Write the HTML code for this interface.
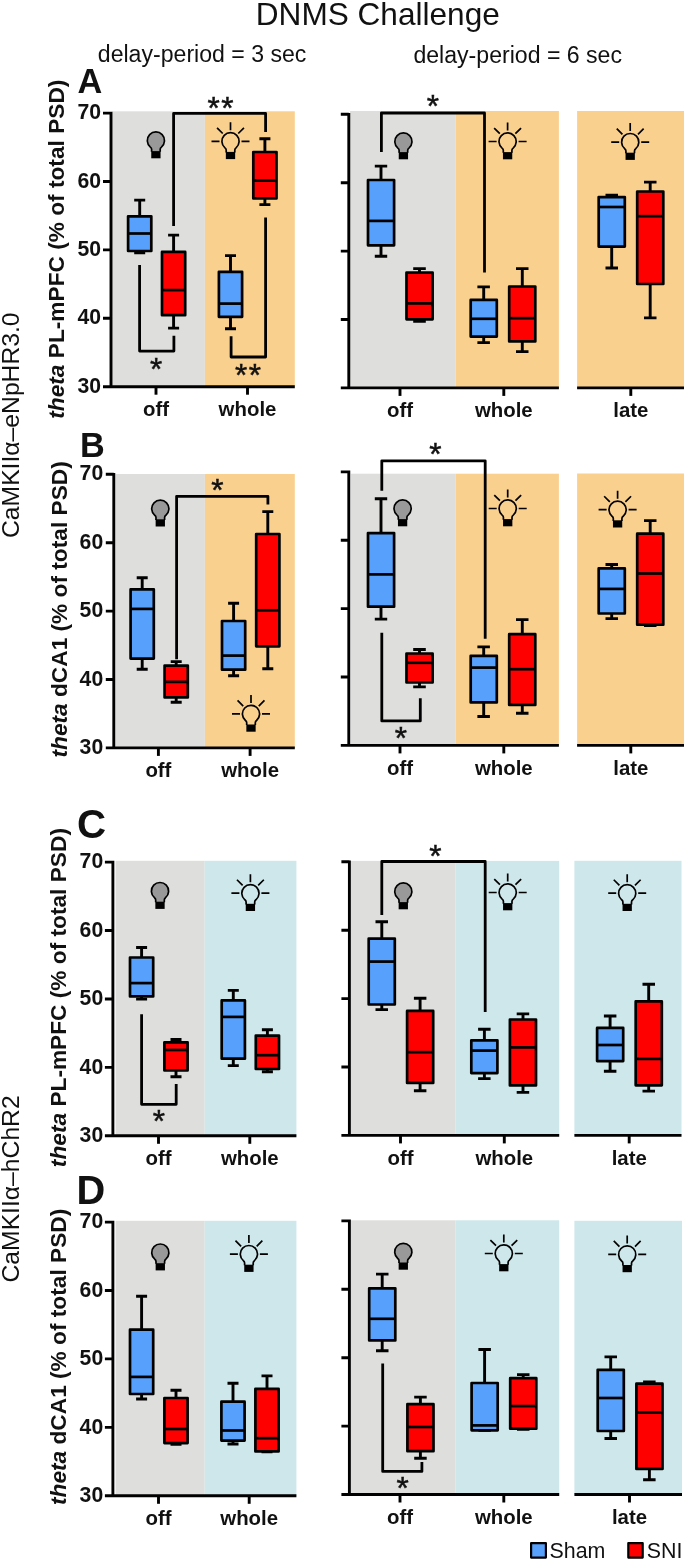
<!DOCTYPE html>
<html><head><meta charset="utf-8"><title>DNMS Challenge</title>
<style>
html,body{margin:0;padding:0;background:#fff}
svg{display:block;will-change:transform}
text{font-family:"Liberation Sans",sans-serif;fill:#111}
</style></head><body>
<svg width="685" height="1561" viewBox="0 0 685 1561">
<rect width="685" height="1561" fill="#fff"/>
<rect x="112.0" y="111.3" width="92.9" height="275.4" fill="#dededc"/>
<rect x="204.9" y="111.3" width="89.9" height="275.4" fill="#fad08f"/>
<rect x="350.0" y="111.0" width="105.6" height="276.9" fill="#dededc"/>
<rect x="455.6" y="111.0" width="103.3" height="276.9" fill="#fad08f"/>
<rect x="577.1" y="111.0" width="106.9" height="276.9" fill="#fad08f"/>
<path d="M111.0 111.8V386.7H294.8M103.0 113.1H111.0M103.0 181.5H111.0M103.0 249.9H111.0M103.0 318.3H111.0M103.0 386.7H111.0" stroke="#000" stroke-width="2.9" fill="none" stroke-linejoin="miter"/>
<text x="101.0" y="119.2" font-size="21.2" font-weight="bold" text-anchor="end">70</text>
<text x="101.0" y="187.6" font-size="21.2" font-weight="bold" text-anchor="end">60</text>
<text x="101.0" y="256.0" font-size="21.2" font-weight="bold" text-anchor="end">50</text>
<text x="101.0" y="324.4" font-size="21.2" font-weight="bold" text-anchor="end">40</text>
<text x="101.0" y="392.8" font-size="21.2" font-weight="bold" text-anchor="end">30</text>
<path d="M348.8 113.0V387.9H558.9M340.8 114.3H348.8M340.8 182.7H348.8M340.8 251.1H348.8M340.8 319.5H348.8M340.8 387.9H348.8" stroke="#000" stroke-width="2.9" fill="none" stroke-linejoin="miter"/>
<path d="M577.1 387.9H684.0" stroke="#000" stroke-width="2.9"/>
<path d="M156.0 386.7V394.7" stroke="#000" stroke-width="2.9"/>
<text x="156.0" y="415.8" font-size="20.4" font-weight="bold" text-anchor="middle">off</text>
<path d="M247.5 386.7V394.7" stroke="#000" stroke-width="2.9"/>
<text x="247.5" y="415.8" font-size="20.4" font-weight="bold" text-anchor="middle">whole</text>
<path d="M400.0 387.9V395.9" stroke="#000" stroke-width="2.9"/>
<text x="400.0" y="416.8" font-size="20.4" font-weight="bold" text-anchor="middle">off</text>
<path d="M503.8 387.9V395.9" stroke="#000" stroke-width="2.9"/>
<text x="503.8" y="416.8" font-size="20.4" font-weight="bold" text-anchor="middle">whole</text>
<path d="M630.8 387.9V395.9" stroke="#000" stroke-width="2.9"/>
<text x="630.8" y="416.8" font-size="20.4" font-weight="bold" text-anchor="middle">late</text>
<path d="M151.60 151.70L151.60 149.29Q151.60 147.89 150.37 147.09A8.6 8.6 0 1 1 161.43 147.09Q160.20 147.89 160.20 149.29L160.20 151.70" fill="#999" stroke="#000" stroke-width="1.7" stroke-linejoin="round"/>
<rect x="151.25" y="151.10" width="9.3" height="7.2" fill="#000"/>
<path d="M226.20 152.50L226.20 150.09Q226.20 148.69 224.97 147.89A8.6 8.6 0 1 1 236.03 147.89Q234.80 148.69 234.80 150.09L234.80 152.50" fill="none" stroke="#000" stroke-width="1.7" stroke-linejoin="round"/>
<rect x="225.85" y="151.90" width="9.3" height="7.2" fill="#000"/>
<path d="M230.50 130.30L230.50 122.30M222.72 133.52L217.06 127.86M238.28 133.52L243.94 127.86M219.50 141.30L211.50 141.30M241.50 141.30L249.50 141.30" stroke="#000" stroke-width="1.7" fill="none"/>
<path d="M399.10 152.70L399.10 150.29Q399.10 148.89 397.87 148.09A8.6 8.6 0 1 1 408.93 148.09Q407.70 148.89 407.70 150.29L407.70 152.70" fill="#999" stroke="#000" stroke-width="1.7" stroke-linejoin="round"/>
<rect x="398.75" y="152.10" width="9.3" height="7.2" fill="#000"/>
<path d="M503.30 152.70L503.30 150.29Q503.30 148.89 502.07 148.09A8.6 8.6 0 1 1 513.13 148.09Q511.90 148.89 511.90 150.29L511.90 152.70" fill="none" stroke="#000" stroke-width="1.7" stroke-linejoin="round"/>
<rect x="502.95" y="152.10" width="9.3" height="7.2" fill="#000"/>
<path d="M507.60 130.50L507.60 122.50M499.82 133.72L494.16 128.06M515.38 133.72L521.04 128.06M496.60 141.50L488.60 141.50M518.60 141.50L526.60 141.50" stroke="#000" stroke-width="1.7" fill="none"/>
<path d="M625.90 153.30L625.90 150.89Q625.90 149.49 624.67 148.69A8.6 8.6 0 1 1 635.73 148.69Q634.50 149.49 634.50 150.89L634.50 153.30" fill="none" stroke="#000" stroke-width="1.7" stroke-linejoin="round"/>
<rect x="625.55" y="152.70" width="9.3" height="7.2" fill="#000"/>
<path d="M630.20 131.10L630.20 123.10M622.42 134.32L616.76 128.66M637.98 134.32L643.64 128.66M619.20 142.10L611.20 142.10M641.20 142.10L649.20 142.10" stroke="#000" stroke-width="1.7" fill="none"/>
<path d="M173.6 224.7L173.6 113.4L265.6 113.4L265.6 130.7" stroke="#000" stroke-width="2.8" fill="none" stroke-linejoin="round" stroke-linecap="square"/>
<path d="M139.6 266.5L139.6 351.1L173.9 351.1L173.9 337.1" stroke="#000" stroke-width="2.8" fill="none" stroke-linejoin="round" stroke-linecap="square"/>
<path d="M231.1 337.7L231.1 357.0L265.6 357.0L265.6 218.9" stroke="#000" stroke-width="2.8" fill="none" stroke-linejoin="round" stroke-linecap="square"/>
<path d="M381.4 150.5L381.4 113.0L484.5 113.0L484.5 271.0" stroke="#000" stroke-width="2.8" fill="none" stroke-linejoin="round" stroke-linecap="square"/>
<path d="M139.7 200.1V216.3M139.7 251.1V252.7M134.2 200.1H145.2M134.2 252.7H145.2" stroke="#000" stroke-width="2.9" fill="none"/>
<rect x="128.1" y="216.3" width="23.2" height="34.7" fill="#57a0fb" stroke="#000" stroke-width="2.7" stroke-linejoin="round"/>
<path d="M128.1 233.5H151.3" stroke="#000" stroke-width="2.7"/>
<path d="M173.6 235.1V251.9M173.6 315.2V328.1M168.1 235.1H179.1M168.1 328.1H179.1" stroke="#000" stroke-width="2.9" fill="none"/>
<rect x="162.0" y="251.9" width="23.2" height="63.3" fill="#ff0000" stroke="#000" stroke-width="2.7" stroke-linejoin="round"/>
<path d="M162.0 290.1H185.2" stroke="#000" stroke-width="2.7"/>
<path d="M230.5 255.6V271.8M230.5 316.7V328.7M225.0 255.6H236.0M225.0 328.7H236.0" stroke="#000" stroke-width="2.9" fill="none"/>
<rect x="218.9" y="271.8" width="23.2" height="45.0" fill="#57a0fb" stroke="#000" stroke-width="2.7" stroke-linejoin="round"/>
<path d="M218.9 303.6H242.1" stroke="#000" stroke-width="2.7"/>
<path d="M264.9 138.8V152.0M264.9 198.5V204.6M259.4 138.8H270.4M259.4 204.6H270.4" stroke="#000" stroke-width="2.9" fill="none"/>
<rect x="253.3" y="152.0" width="23.2" height="46.4" fill="#ff0000" stroke="#000" stroke-width="2.7" stroke-linejoin="round"/>
<path d="M253.3 180.6H276.5" stroke="#000" stroke-width="2.7"/>
<path d="M381.0 166.1V180.0M381.0 245.4V256.2M374.8 166.1H387.2M374.8 256.2H387.2" stroke="#000" stroke-width="2.9" fill="none"/>
<rect x="368.0" y="180.0" width="26.1" height="65.3" fill="#57a0fb" stroke="#000" stroke-width="2.7" stroke-linejoin="round"/>
<path d="M368.0 220.9H394.0" stroke="#000" stroke-width="2.7"/>
<path d="M419.5 268.6V272.6M419.5 319.2V321.4M413.2 268.6H425.8M413.2 321.4H425.8" stroke="#000" stroke-width="2.9" fill="none"/>
<rect x="406.5" y="272.6" width="26.1" height="46.7" fill="#ff0000" stroke="#000" stroke-width="2.7" stroke-linejoin="round"/>
<path d="M406.5 303.4H432.5" stroke="#000" stroke-width="2.7"/>
<path d="M483.7 286.9V299.9M483.7 336.5V342.6M477.4 286.9H489.9M477.4 342.6H489.9" stroke="#000" stroke-width="2.9" fill="none"/>
<rect x="470.7" y="299.9" width="26.1" height="36.7" fill="#57a0fb" stroke="#000" stroke-width="2.7" stroke-linejoin="round"/>
<path d="M470.7 318.8H496.7" stroke="#000" stroke-width="2.7"/>
<path d="M522.3 268.6V286.5M522.3 341.3V351.6M516.0 268.6H528.5M516.0 351.6H528.5" stroke="#000" stroke-width="2.9" fill="none"/>
<rect x="509.2" y="286.5" width="26.1" height="54.9" fill="#ff0000" stroke="#000" stroke-width="2.7" stroke-linejoin="round"/>
<path d="M509.2 318.2H535.3" stroke="#000" stroke-width="2.7"/>
<path d="M611.7 195.3V197.1M611.7 246.7V268.0M605.5 195.3H618.0M605.5 268.0H618.0" stroke="#000" stroke-width="2.9" fill="none"/>
<rect x="598.7" y="197.1" width="26.1" height="49.5" fill="#57a0fb" stroke="#000" stroke-width="2.7" stroke-linejoin="round"/>
<path d="M598.7 207.0H624.8" stroke="#000" stroke-width="2.7"/>
<path d="M650.2 182.1V191.5M650.2 284.0V317.9M644.0 182.1H656.5M644.0 317.9H656.5" stroke="#000" stroke-width="2.9" fill="none"/>
<rect x="637.2" y="191.5" width="26.1" height="92.5" fill="#ff0000" stroke="#000" stroke-width="2.7" stroke-linejoin="round"/>
<path d="M637.2 216.2H663.2" stroke="#000" stroke-width="2.7"/>
<text x="213.6" y="118.6" font-size="31.5" text-anchor="middle" stroke="#111" stroke-width="0.5">*</text>
<text x="227.4" y="118.6" font-size="31.5" text-anchor="middle" stroke="#111" stroke-width="0.5">*</text>
<text x="156.1" y="379.9" font-size="31.5" text-anchor="middle" stroke="#111" stroke-width="0.5">*</text>
<text x="241.1" y="386.3" font-size="31.5" text-anchor="middle" stroke="#111" stroke-width="0.5">*</text>
<text x="254.9" y="386.3" font-size="31.5" text-anchor="middle" stroke="#111" stroke-width="0.5">*</text>
<text x="433.0" y="117.0" font-size="31.5" text-anchor="middle" stroke="#111" stroke-width="0.5">*</text>
<rect x="115.5" y="474.0" width="89.4" height="273.9" fill="#dededc"/>
<rect x="204.9" y="474.0" width="89.9" height="273.9" fill="#fad08f"/>
<rect x="350.8" y="473.7" width="104.8" height="271.7" fill="#dededc"/>
<rect x="455.6" y="473.7" width="103.3" height="271.7" fill="#fad08f"/>
<rect x="577.1" y="473.5" width="106.9" height="271.9" fill="#fad08f"/>
<path d="M113.8 472.9V747.9H294.8M105.8 474.3H113.8M105.8 542.7H113.8M105.8 611.1H113.8M105.8 679.5H113.8M105.8 747.9H113.8" stroke="#000" stroke-width="2.9" fill="none" stroke-linejoin="miter"/>
<text x="103.2" y="480.4" font-size="21.2" font-weight="bold" text-anchor="end">70</text>
<text x="103.2" y="548.8" font-size="21.2" font-weight="bold" text-anchor="end">60</text>
<text x="103.2" y="617.2" font-size="21.2" font-weight="bold" text-anchor="end">50</text>
<text x="103.2" y="685.6" font-size="21.2" font-weight="bold" text-anchor="end">40</text>
<text x="103.2" y="754.0" font-size="21.2" font-weight="bold" text-anchor="end">30</text>
<path d="M348.8 470.5V745.4H558.9M340.8 471.9H348.8M340.8 540.3H348.8M340.8 608.6H348.8M340.8 677.0H348.8M340.8 745.4H348.8" stroke="#000" stroke-width="2.9" fill="none" stroke-linejoin="miter"/>
<path d="M577.1 745.4H684.0" stroke="#000" stroke-width="2.9"/>
<path d="M158.4 747.9V755.9" stroke="#000" stroke-width="2.9"/>
<text x="158.4" y="776.9" font-size="20.4" font-weight="bold" text-anchor="middle">off</text>
<path d="M250.1 747.9V755.9" stroke="#000" stroke-width="2.9"/>
<text x="250.1" y="776.9" font-size="20.4" font-weight="bold" text-anchor="middle">whole</text>
<path d="M400.0 745.4V753.4" stroke="#000" stroke-width="2.9"/>
<text x="400.0" y="775.0" font-size="20.4" font-weight="bold" text-anchor="middle">off</text>
<path d="M503.8 745.4V753.4" stroke="#000" stroke-width="2.9"/>
<text x="503.8" y="775.0" font-size="20.4" font-weight="bold" text-anchor="middle">whole</text>
<path d="M630.8 745.4V753.4" stroke="#000" stroke-width="2.9"/>
<text x="630.8" y="775.0" font-size="20.4" font-weight="bold" text-anchor="middle">late</text>
<path d="M156.00 519.90L156.00 517.49Q156.00 516.09 154.77 515.29A8.6 8.6 0 1 1 165.83 515.29Q164.60 516.09 164.60 517.49L164.60 519.90" fill="#999" stroke="#000" stroke-width="1.7" stroke-linejoin="round"/>
<rect x="155.65" y="519.30" width="9.3" height="7.2" fill="#000"/>
<path d="M246.70 725.10L246.70 722.69Q246.70 721.29 245.47 720.49A8.6 8.6 0 1 1 256.53 720.49Q255.30 721.29 255.30 722.69L255.30 725.10" fill="none" stroke="#000" stroke-width="1.7" stroke-linejoin="round"/>
<rect x="246.35" y="724.50" width="9.3" height="7.2" fill="#000"/>
<path d="M251.00 702.90L251.00 694.90M243.22 706.12L237.56 700.46M258.78 706.12L264.44 700.46M240.00 713.90L232.00 713.90M262.00 713.90L270.00 713.90" stroke="#000" stroke-width="1.7" fill="none"/>
<path d="M398.30 519.70L398.30 517.29Q398.30 515.89 397.07 515.09A8.6 8.6 0 1 1 408.13 515.09Q406.90 515.89 406.90 517.29L406.90 519.70" fill="#999" stroke="#000" stroke-width="1.7" stroke-linejoin="round"/>
<rect x="397.95" y="519.10" width="9.3" height="7.2" fill="#000"/>
<path d="M503.40 519.70L503.40 517.29Q503.40 515.89 502.17 515.09A8.6 8.6 0 1 1 513.23 515.09Q512.00 515.89 512.00 517.29L512.00 519.70" fill="none" stroke="#000" stroke-width="1.7" stroke-linejoin="round"/>
<rect x="503.05" y="519.10" width="9.3" height="7.2" fill="#000"/>
<path d="M507.70 497.50L507.70 489.50M499.92 500.72L494.26 495.06M515.48 500.72L521.14 495.06M496.70 508.50L488.70 508.50M518.70 508.50L526.70 508.50" stroke="#000" stroke-width="1.7" fill="none"/>
<path d="M613.30 520.90L613.30 518.49Q613.30 517.09 612.07 516.29A8.6 8.6 0 1 1 623.13 516.29Q621.90 517.09 621.90 518.49L621.90 520.90" fill="none" stroke="#000" stroke-width="1.7" stroke-linejoin="round"/>
<rect x="612.95" y="520.30" width="9.3" height="7.2" fill="#000"/>
<path d="M617.60 498.70L617.60 490.70M609.82 501.92L604.16 496.26M625.38 501.92L631.04 496.26M606.60 509.70L598.60 509.70M628.60 509.70L636.60 509.70" stroke="#000" stroke-width="1.7" fill="none"/>
<path d="M176.6 657.9L176.6 496.3L267.9 496.3L267.9 503.2" stroke="#000" stroke-width="2.8" fill="none" stroke-linejoin="round" stroke-linecap="square"/>
<path d="M381.8 489.4L381.8 460.8L485.2 460.8L485.2 637.4" stroke="#000" stroke-width="2.8" fill="none" stroke-linejoin="round" stroke-linecap="square"/>
<path d="M381.8 634.2L381.8 720.9L420.3 720.9L420.3 699.7" stroke="#000" stroke-width="2.8" fill="none" stroke-linejoin="round" stroke-linecap="square"/>
<path d="M142.2 577.8V589.4M142.2 658.5V669.3M136.7 577.8H147.7M136.7 669.3H147.7" stroke="#000" stroke-width="2.9" fill="none"/>
<rect x="130.6" y="589.4" width="23.2" height="69.2" fill="#57a0fb" stroke="#000" stroke-width="2.7" stroke-linejoin="round"/>
<path d="M130.6 608.9H153.8" stroke="#000" stroke-width="2.7"/>
<path d="M176.2 661.6V665.6M176.2 697.3V702.3M170.7 661.6H181.7M170.7 702.3H181.7" stroke="#000" stroke-width="2.9" fill="none"/>
<rect x="164.6" y="665.6" width="23.2" height="31.8" fill="#ff0000" stroke="#000" stroke-width="2.7" stroke-linejoin="round"/>
<path d="M164.6 681.9H187.8" stroke="#000" stroke-width="2.7"/>
<path d="M233.6 603.2V621.0M233.6 669.6V675.7M228.1 603.2H239.1M228.1 675.7H239.1" stroke="#000" stroke-width="2.9" fill="none"/>
<rect x="222.0" y="621.0" width="23.2" height="48.7" fill="#57a0fb" stroke="#000" stroke-width="2.7" stroke-linejoin="round"/>
<path d="M222.0 655.6H245.2" stroke="#000" stroke-width="2.7"/>
<path d="M267.8 511.6V534.0M267.8 646.2V668.7M262.3 511.6H273.3M262.3 668.7H273.3" stroke="#000" stroke-width="2.9" fill="none"/>
<rect x="256.2" y="534.0" width="23.2" height="112.3" fill="#ff0000" stroke="#000" stroke-width="2.7" stroke-linejoin="round"/>
<path d="M256.2 610.3H279.4" stroke="#000" stroke-width="2.7"/>
<path d="M381.0 498.8V533.1M381.0 606.6V619.1M374.8 498.8H387.2M374.8 619.1H387.2" stroke="#000" stroke-width="2.9" fill="none"/>
<rect x="368.0" y="533.1" width="26.1" height="73.6" fill="#57a0fb" stroke="#000" stroke-width="2.7" stroke-linejoin="round"/>
<path d="M368.0 574.4H394.0" stroke="#000" stroke-width="2.7"/>
<path d="M419.5 649.5V653.5M419.5 682.4V686.9M413.2 649.5H425.8M413.2 686.9H425.8" stroke="#000" stroke-width="2.9" fill="none"/>
<rect x="406.5" y="653.5" width="26.1" height="29.0" fill="#ff0000" stroke="#000" stroke-width="2.7" stroke-linejoin="round"/>
<path d="M406.5 662.8H432.5" stroke="#000" stroke-width="2.7"/>
<path d="M483.7 646.9V655.8M483.7 702.3V716.5M477.4 646.9H489.9M477.4 716.5H489.9" stroke="#000" stroke-width="2.9" fill="none"/>
<rect x="470.7" y="655.8" width="26.1" height="46.6" fill="#57a0fb" stroke="#000" stroke-width="2.7" stroke-linejoin="round"/>
<path d="M470.7 667.6H496.7" stroke="#000" stroke-width="2.7"/>
<path d="M522.3 619.6V634.2M522.3 704.9V713.2M516.0 619.6H528.5M516.0 713.2H528.5" stroke="#000" stroke-width="2.9" fill="none"/>
<rect x="509.2" y="634.2" width="26.1" height="70.7" fill="#ff0000" stroke="#000" stroke-width="2.7" stroke-linejoin="round"/>
<path d="M509.2 669.2H535.3" stroke="#000" stroke-width="2.7"/>
<path d="M611.7 564.5V568.4M611.7 613.4V618.6M605.5 564.5H618.0M605.5 618.6H618.0" stroke="#000" stroke-width="2.9" fill="none"/>
<rect x="598.7" y="568.4" width="26.1" height="45.1" fill="#57a0fb" stroke="#000" stroke-width="2.7" stroke-linejoin="round"/>
<path d="M598.7 588.9H624.8" stroke="#000" stroke-width="2.7"/>
<path d="M650.2 520.6V533.7M650.2 624.6V625.6M644.0 520.6H656.5M644.0 625.6H656.5" stroke="#000" stroke-width="2.9" fill="none"/>
<rect x="637.2" y="533.7" width="26.1" height="91.0" fill="#ff0000" stroke="#000" stroke-width="2.7" stroke-linejoin="round"/>
<path d="M637.2 573.5H663.2" stroke="#000" stroke-width="2.7"/>
<text x="217.4" y="500.6" font-size="31.5" text-anchor="middle" stroke="#111" stroke-width="0.5">*</text>
<text x="435.3" y="464.9" font-size="31.5" text-anchor="middle" stroke="#111" stroke-width="0.5">*</text>
<text x="401.0" y="749.4" font-size="31.5" text-anchor="middle" stroke="#111" stroke-width="0.5">*</text>
<rect x="115.6" y="860.8" width="89.1" height="275.0" fill="#dededc"/>
<rect x="204.7" y="860.8" width="91.7" height="275.0" fill="#cde7ea"/>
<rect x="351.0" y="860.9" width="104.6" height="274.5" fill="#dededc"/>
<rect x="455.6" y="860.9" width="103.6" height="274.5" fill="#cde7ea"/>
<rect x="574.4" y="860.8" width="107.1" height="274.6" fill="#cde7ea"/>
<path d="M112.9 860.8V1135.8H296.4M104.9 862.1H112.9M104.9 930.5H112.9M104.9 999.0H112.9M104.9 1067.4H112.9M104.9 1135.8H112.9" stroke="#000" stroke-width="2.9" fill="none" stroke-linejoin="miter"/>
<text x="103.2" y="868.2" font-size="21.2" font-weight="bold" text-anchor="end">70</text>
<text x="103.2" y="936.6" font-size="21.2" font-weight="bold" text-anchor="end">60</text>
<text x="103.2" y="1005.1" font-size="21.2" font-weight="bold" text-anchor="end">50</text>
<text x="103.2" y="1073.5" font-size="21.2" font-weight="bold" text-anchor="end">40</text>
<text x="103.2" y="1141.9" font-size="21.2" font-weight="bold" text-anchor="end">30</text>
<path d="M349.4 860.4V1135.4H559.2M341.4 861.8H349.4M341.4 930.2H349.4M341.4 998.6H349.4M341.4 1067.0H349.4M341.4 1135.4H349.4" stroke="#000" stroke-width="2.9" fill="none" stroke-linejoin="miter"/>
<path d="M574.4 1135.4H681.5" stroke="#000" stroke-width="2.9"/>
<path d="M158.5 1135.8V1143.8" stroke="#000" stroke-width="2.9"/>
<text x="158.5" y="1165.4" font-size="20.4" font-weight="bold" text-anchor="middle">off</text>
<path d="M249.8 1135.8V1143.8" stroke="#000" stroke-width="2.9"/>
<text x="249.8" y="1165.4" font-size="20.4" font-weight="bold" text-anchor="middle">whole</text>
<path d="M400.5 1135.4V1143.4" stroke="#000" stroke-width="2.9"/>
<text x="400.5" y="1165.3" font-size="20.4" font-weight="bold" text-anchor="middle">off</text>
<path d="M504.3 1135.4V1143.4" stroke="#000" stroke-width="2.9"/>
<text x="504.3" y="1165.3" font-size="20.4" font-weight="bold" text-anchor="middle">whole</text>
<path d="M629.2 1135.4V1143.4" stroke="#000" stroke-width="2.9"/>
<text x="629.2" y="1165.3" font-size="20.4" font-weight="bold" text-anchor="middle">late</text>
<path d="M155.70 902.30L155.70 899.89Q155.70 898.49 154.47 897.69A8.6 8.6 0 1 1 165.53 897.69Q164.30 898.49 164.30 899.89L164.30 902.30" fill="#999" stroke="#000" stroke-width="1.7" stroke-linejoin="round"/>
<rect x="155.35" y="901.70" width="9.3" height="7.2" fill="#000"/>
<path d="M246.10 904.40L246.10 901.99Q246.10 900.59 244.87 899.79A8.6 8.6 0 1 1 255.93 899.79Q254.70 900.59 254.70 901.99L254.70 904.40" fill="none" stroke="#000" stroke-width="1.7" stroke-linejoin="round"/>
<rect x="245.75" y="903.80" width="9.3" height="7.2" fill="#000"/>
<path d="M250.40 882.20L250.40 874.20M242.62 885.42L236.96 879.76M258.18 885.42L263.84 879.76M239.40 893.20L231.40 893.20M261.40 893.20L269.40 893.20" stroke="#000" stroke-width="1.7" fill="none"/>
<path d="M399.00 902.70L399.00 900.29Q399.00 898.89 397.77 898.09A8.6 8.6 0 1 1 408.83 898.09Q407.60 898.89 407.60 900.29L407.60 902.70" fill="#999" stroke="#000" stroke-width="1.7" stroke-linejoin="round"/>
<rect x="398.65" y="902.10" width="9.3" height="7.2" fill="#000"/>
<path d="M503.40 903.70L503.40 901.29Q503.40 899.89 502.17 899.09A8.6 8.6 0 1 1 513.23 899.09Q512.00 899.89 512.00 901.29L512.00 903.70" fill="none" stroke="#000" stroke-width="1.7" stroke-linejoin="round"/>
<rect x="503.05" y="903.10" width="9.3" height="7.2" fill="#000"/>
<path d="M507.70 881.50L507.70 873.50M499.92 884.72L494.26 879.06M515.48 884.72L521.14 879.06M496.70 892.50L488.70 892.50M518.70 892.50L526.70 892.50" stroke="#000" stroke-width="1.7" fill="none"/>
<path d="M622.90 904.40L622.90 901.99Q622.90 900.59 621.67 899.79A8.6 8.6 0 1 1 632.73 899.79Q631.50 900.59 631.50 901.99L631.50 904.40" fill="none" stroke="#000" stroke-width="1.7" stroke-linejoin="round"/>
<rect x="622.55" y="903.80" width="9.3" height="7.2" fill="#000"/>
<path d="M627.20 882.20L627.20 874.20M619.42 885.42L613.76 879.76M634.98 885.42L640.64 879.76M616.20 893.20L608.20 893.20M638.20 893.20L646.20 893.20" stroke="#000" stroke-width="1.7" fill="none"/>
<path d="M141.6 1015.7L141.6 1104.3L176.2 1104.3L176.2 1085.3" stroke="#000" stroke-width="2.8" fill="none" stroke-linejoin="round" stroke-linecap="square"/>
<path d="M381.8 913.5L381.8 861.5L485.2 861.5L485.2 1010.5" stroke="#000" stroke-width="2.8" fill="none" stroke-linejoin="round" stroke-linecap="square"/>
<path d="M141.6 947.5V957.5M141.6 996.3V999.1M136.1 947.5H147.1M136.1 999.1H147.1" stroke="#000" stroke-width="2.9" fill="none"/>
<rect x="130.0" y="957.5" width="23.2" height="38.9" fill="#57a0fb" stroke="#000" stroke-width="2.7" stroke-linejoin="round"/>
<path d="M130.0 983.1H153.2" stroke="#000" stroke-width="2.7"/>
<path d="M176.0 1039.5V1042.3M176.0 1070.6V1076.7M170.5 1039.5H181.5M170.5 1076.7H181.5" stroke="#000" stroke-width="2.9" fill="none"/>
<rect x="164.4" y="1042.3" width="23.2" height="28.2" fill="#ff0000" stroke="#000" stroke-width="2.7" stroke-linejoin="round"/>
<path d="M164.4 1050.0H187.6" stroke="#000" stroke-width="2.7"/>
<path d="M233.3 990.4V1000.4M233.3 1058.7V1065.6M227.8 990.4H238.8M227.8 1065.6H238.8" stroke="#000" stroke-width="2.9" fill="none"/>
<rect x="221.7" y="1000.4" width="23.2" height="58.3" fill="#57a0fb" stroke="#000" stroke-width="2.7" stroke-linejoin="round"/>
<path d="M221.7 1016.9H244.9" stroke="#000" stroke-width="2.7"/>
<path d="M267.4 1029.7V1035.6M267.4 1069.1V1071.8M261.9 1029.7H272.9M261.9 1071.8H272.9" stroke="#000" stroke-width="2.9" fill="none"/>
<rect x="255.8" y="1035.6" width="23.2" height="33.4" fill="#ff0000" stroke="#000" stroke-width="2.7" stroke-linejoin="round"/>
<path d="M255.8 1055.2H279.0" stroke="#000" stroke-width="2.7"/>
<path d="M381.8 921.7V938.6M381.8 1004.4V1009.6M375.5 921.7H388.0M375.5 1009.6H388.0" stroke="#000" stroke-width="2.9" fill="none"/>
<rect x="368.7" y="938.6" width="26.1" height="65.9" fill="#57a0fb" stroke="#000" stroke-width="2.7" stroke-linejoin="round"/>
<path d="M368.7 961.6H394.8" stroke="#000" stroke-width="2.7"/>
<path d="M420.1 998.2V1010.9M420.1 1082.9V1090.8M413.9 998.2H426.4M413.9 1090.8H426.4" stroke="#000" stroke-width="2.9" fill="none"/>
<rect x="407.1" y="1010.9" width="26.1" height="72.0" fill="#ff0000" stroke="#000" stroke-width="2.7" stroke-linejoin="round"/>
<path d="M407.1 1052.2H433.2" stroke="#000" stroke-width="2.7"/>
<path d="M484.4 1029.3V1040.3M484.4 1073.2V1078.6M478.1 1029.3H490.6M478.1 1078.6H490.6" stroke="#000" stroke-width="2.9" fill="none"/>
<rect x="471.3" y="1040.3" width="26.1" height="32.8" fill="#57a0fb" stroke="#000" stroke-width="2.7" stroke-linejoin="round"/>
<path d="M471.3 1050.6H497.4" stroke="#000" stroke-width="2.7"/>
<path d="M523.0 1013.9V1019.5M523.0 1085.4V1092.4M516.7 1013.9H529.2M516.7 1092.4H529.2" stroke="#000" stroke-width="2.9" fill="none"/>
<rect x="509.9" y="1019.5" width="26.1" height="65.9" fill="#ff0000" stroke="#000" stroke-width="2.7" stroke-linejoin="round"/>
<path d="M509.9 1047.4H536.0" stroke="#000" stroke-width="2.7"/>
<path d="M610.1 1016.0V1027.9M610.1 1061.2V1071.3M603.9 1016.0H616.4M603.9 1071.3H616.4" stroke="#000" stroke-width="2.9" fill="none"/>
<rect x="597.1" y="1027.9" width="26.1" height="33.2" fill="#57a0fb" stroke="#000" stroke-width="2.7" stroke-linejoin="round"/>
<path d="M597.1 1045.0H623.1" stroke="#000" stroke-width="2.7"/>
<path d="M648.7 984.3V1001.4M648.7 1085.3V1091.1M642.5 984.3H655.0M642.5 1091.1H655.0" stroke="#000" stroke-width="2.9" fill="none"/>
<rect x="635.7" y="1001.4" width="26.1" height="83.9" fill="#ff0000" stroke="#000" stroke-width="2.7" stroke-linejoin="round"/>
<path d="M635.7 1058.9H661.8" stroke="#000" stroke-width="2.7"/>
<text x="158.8" y="1132.4" font-size="31.5" text-anchor="middle" stroke="#111" stroke-width="0.5">*</text>
<text x="435.4" y="866.5" font-size="31.5" text-anchor="middle" stroke="#111" stroke-width="0.5">*</text>
<rect x="115.6" y="1220.8" width="89.1" height="275.0" fill="#dededc"/>
<rect x="204.7" y="1220.8" width="91.7" height="275.0" fill="#cde7ea"/>
<rect x="351.0" y="1220.3" width="104.6" height="274.2" fill="#dededc"/>
<rect x="455.6" y="1220.3" width="103.6" height="274.2" fill="#cde7ea"/>
<rect x="574.4" y="1220.8" width="107.6" height="273.7" fill="#cde7ea"/>
<path d="M112.9 1220.8V1495.8H296.4M104.9 1222.1H112.9M104.9 1290.5H112.9M104.9 1358.9H112.9M104.9 1427.4H112.9M104.9 1495.8H112.9" stroke="#000" stroke-width="2.9" fill="none" stroke-linejoin="miter"/>
<text x="103.2" y="1228.2" font-size="21.2" font-weight="bold" text-anchor="end">70</text>
<text x="103.2" y="1296.6" font-size="21.2" font-weight="bold" text-anchor="end">60</text>
<text x="103.2" y="1365.0" font-size="21.2" font-weight="bold" text-anchor="end">50</text>
<text x="103.2" y="1433.5" font-size="21.2" font-weight="bold" text-anchor="end">40</text>
<text x="103.2" y="1501.9" font-size="21.2" font-weight="bold" text-anchor="end">30</text>
<path d="M349.4 1219.6V1494.5H559.2M341.4 1220.9H349.4M341.4 1289.3H349.4M341.4 1357.7H349.4M341.4 1426.1H349.4M341.4 1494.5H349.4" stroke="#000" stroke-width="2.9" fill="none" stroke-linejoin="miter"/>
<path d="M574.4 1494.5H682.0" stroke="#000" stroke-width="2.9"/>
<path d="M158.5 1495.8V1503.8" stroke="#000" stroke-width="2.9"/>
<text x="158.5" y="1525.4" font-size="20.4" font-weight="bold" text-anchor="middle">off</text>
<path d="M249.2 1495.8V1503.8" stroke="#000" stroke-width="2.9"/>
<text x="249.2" y="1525.4" font-size="20.4" font-weight="bold" text-anchor="middle">whole</text>
<path d="M400.0 1494.5V1502.5" stroke="#000" stroke-width="2.9"/>
<text x="400.0" y="1524.4" font-size="20.4" font-weight="bold" text-anchor="middle">off</text>
<path d="M503.8 1494.5V1502.5" stroke="#000" stroke-width="2.9"/>
<text x="503.8" y="1524.4" font-size="20.4" font-weight="bold" text-anchor="middle">whole</text>
<path d="M629.5 1494.5V1502.5" stroke="#000" stroke-width="2.9"/>
<text x="629.5" y="1524.4" font-size="20.4" font-weight="bold" text-anchor="middle">late</text>
<path d="M156.00 1263.80L156.00 1261.39Q156.00 1259.99 154.77 1259.19A8.6 8.6 0 1 1 165.83 1259.19Q164.60 1259.99 164.60 1261.39L164.60 1263.80" fill="#999" stroke="#000" stroke-width="1.7" stroke-linejoin="round"/>
<rect x="155.65" y="1263.20" width="9.3" height="7.2" fill="#000"/>
<path d="M244.60 1265.30L244.60 1262.89Q244.60 1261.49 243.37 1260.69A8.6 8.6 0 1 1 254.43 1260.69Q253.20 1261.49 253.20 1262.89L253.20 1265.30" fill="none" stroke="#000" stroke-width="1.7" stroke-linejoin="round"/>
<rect x="244.25" y="1264.70" width="9.3" height="7.2" fill="#000"/>
<path d="M248.90 1243.10L248.90 1235.10M241.12 1246.32L235.46 1240.66M256.68 1246.32L262.34 1240.66M237.90 1254.10L229.90 1254.10M259.90 1254.10L267.90 1254.10" stroke="#000" stroke-width="1.7" fill="none"/>
<path d="M399.00 1263.10L399.00 1260.69Q399.00 1259.29 397.77 1258.49A8.6 8.6 0 1 1 408.83 1258.49Q407.60 1259.29 407.60 1260.69L407.60 1263.10" fill="#999" stroke="#000" stroke-width="1.7" stroke-linejoin="round"/>
<rect x="398.65" y="1262.50" width="9.3" height="7.2" fill="#000"/>
<path d="M499.50 1264.70L499.50 1262.29Q499.50 1260.89 498.27 1260.09A8.6 8.6 0 1 1 509.33 1260.09Q508.10 1260.89 508.10 1262.29L508.10 1264.70" fill="none" stroke="#000" stroke-width="1.7" stroke-linejoin="round"/>
<rect x="499.15" y="1264.10" width="9.3" height="7.2" fill="#000"/>
<path d="M503.80 1242.50L503.80 1234.50M496.02 1245.72L490.36 1240.06M511.58 1245.72L517.24 1240.06M492.80 1253.50L484.80 1253.50M514.80 1253.50L522.80 1253.50" stroke="#000" stroke-width="1.7" fill="none"/>
<path d="M622.90 1265.60L622.90 1263.19Q622.90 1261.79 621.67 1260.99A8.6 8.6 0 1 1 632.73 1260.99Q631.50 1261.79 631.50 1263.19L631.50 1265.60" fill="none" stroke="#000" stroke-width="1.7" stroke-linejoin="round"/>
<rect x="622.55" y="1265.00" width="9.3" height="7.2" fill="#000"/>
<path d="M627.20 1243.40L627.20 1235.40M619.42 1246.62L613.76 1240.96M634.98 1246.62L640.64 1240.96M616.20 1254.40L608.20 1254.40M638.20 1254.40L646.20 1254.40" stroke="#000" stroke-width="1.7" fill="none"/>
<path d="M382.7 1364.8L382.7 1471.4L421.9 1471.4L421.9 1463.4" stroke="#000" stroke-width="2.8" fill="none" stroke-linejoin="round" stroke-linecap="square"/>
<path d="M141.6 1296.2V1329.7M141.6 1394.1V1399.0M136.1 1296.2H147.1M136.1 1399.0H147.1" stroke="#000" stroke-width="2.9" fill="none"/>
<rect x="130.0" y="1329.7" width="23.2" height="64.3" fill="#57a0fb" stroke="#000" stroke-width="2.7" stroke-linejoin="round"/>
<path d="M130.0 1376.9H153.2" stroke="#000" stroke-width="2.7"/>
<path d="M176.0 1390.3V1398.0M176.0 1443.2V1444.3M170.5 1390.3H181.5M170.5 1444.3H181.5" stroke="#000" stroke-width="2.9" fill="none"/>
<rect x="164.4" y="1398.0" width="23.2" height="45.1" fill="#ff0000" stroke="#000" stroke-width="2.7" stroke-linejoin="round"/>
<path d="M164.4 1429.0H187.6" stroke="#000" stroke-width="2.7"/>
<path d="M233.0 1383.2V1401.7M233.0 1440.7V1444.0M227.5 1383.2H238.5M227.5 1444.0H238.5" stroke="#000" stroke-width="2.9" fill="none"/>
<rect x="221.4" y="1401.7" width="23.2" height="38.9" fill="#57a0fb" stroke="#000" stroke-width="2.7" stroke-linejoin="round"/>
<path d="M221.4 1430.5H244.6" stroke="#000" stroke-width="2.7"/>
<path d="M267.0 1375.9V1388.8M267.0 1451.5V1451.7M261.5 1375.9H272.5M261.5 1451.7H272.5" stroke="#000" stroke-width="2.9" fill="none"/>
<rect x="255.4" y="1388.8" width="23.2" height="62.6" fill="#ff0000" stroke="#000" stroke-width="2.7" stroke-linejoin="round"/>
<path d="M255.4 1438.2H278.6" stroke="#000" stroke-width="2.7"/>
<path d="M382.2 1274.1V1288.3M382.2 1340.5V1350.7M376.0 1274.1H388.5M376.0 1350.7H388.5" stroke="#000" stroke-width="2.9" fill="none"/>
<rect x="369.2" y="1288.3" width="26.1" height="52.1" fill="#57a0fb" stroke="#000" stroke-width="2.7" stroke-linejoin="round"/>
<path d="M369.2 1318.8H395.3" stroke="#000" stroke-width="2.7"/>
<path d="M420.4 1397.1V1404.2M420.4 1451.3V1458.2M414.2 1397.1H426.7M414.2 1458.2H426.7" stroke="#000" stroke-width="2.9" fill="none"/>
<rect x="407.4" y="1404.2" width="26.1" height="47.0" fill="#ff0000" stroke="#000" stroke-width="2.7" stroke-linejoin="round"/>
<path d="M407.4 1427.0H433.5" stroke="#000" stroke-width="2.7"/>
<path d="M484.6 1349.5V1383.0M484.6 1430.4V1430.3M478.4 1349.5H490.9M478.4 1430.3H490.9" stroke="#000" stroke-width="2.9" fill="none"/>
<rect x="471.6" y="1383.0" width="26.1" height="47.3" fill="#57a0fb" stroke="#000" stroke-width="2.7" stroke-linejoin="round"/>
<path d="M471.6 1425.4H497.7" stroke="#000" stroke-width="2.7"/>
<path d="M523.2 1374.6V1378.2M523.2 1428.8V1429.3M517.0 1374.6H529.5M517.0 1429.3H529.5" stroke="#000" stroke-width="2.9" fill="none"/>
<rect x="510.2" y="1378.2" width="26.1" height="50.5" fill="#ff0000" stroke="#000" stroke-width="2.7" stroke-linejoin="round"/>
<path d="M510.2 1406.1H536.3" stroke="#000" stroke-width="2.7"/>
<path d="M610.7 1356.9V1369.8M610.7 1431.1V1438.5M604.5 1356.9H617.0M604.5 1438.5H617.0" stroke="#000" stroke-width="2.9" fill="none"/>
<rect x="597.7" y="1369.8" width="26.1" height="61.2" fill="#57a0fb" stroke="#000" stroke-width="2.7" stroke-linejoin="round"/>
<path d="M597.7 1398.0H623.8" stroke="#000" stroke-width="2.7"/>
<path d="M649.4 1381.9V1383.7M649.4 1469.0V1479.7M643.1 1381.9H655.6M643.1 1479.7H655.6" stroke="#000" stroke-width="2.9" fill="none"/>
<rect x="636.4" y="1383.7" width="26.1" height="85.2" fill="#ff0000" stroke="#000" stroke-width="2.7" stroke-linejoin="round"/>
<path d="M636.4 1412.4H662.4" stroke="#000" stroke-width="2.7"/>
<text x="402.6" y="1498.9" font-size="31.5" text-anchor="middle" stroke="#111" stroke-width="0.5">*</text>
<text x="377.8" y="24.8" font-size="31.6" text-anchor="middle">DNMS Challenge</text>
<text x="97.8" y="62.2" font-size="23.1">delay-period = 3 sec</text>
<text x="413.4" y="62.9" font-size="23.1">delay-period = 6 sec</text>
<text x="77.5" y="93.2" font-size="34.3" font-weight="bold">A</text>
<text x="79.9" y="457.3" font-size="34.3" font-weight="bold">B</text>
<text x="77.0" y="838.3" font-size="40.3" font-weight="bold">C</text>
<text x="76.5" y="1204.0" font-size="39.8" font-weight="bold">D</text>
<text transform="translate(64.3 249.2) rotate(-90)" font-size="22.7" font-weight="bold" text-anchor="middle"><tspan font-style="italic">theta</tspan> PL-mPFC (% of total PSD)</text>
<text transform="translate(67.0 609.4) rotate(-90)" font-size="22.7" font-weight="bold" text-anchor="middle"><tspan font-style="italic">theta</tspan> dCA1 (% of total PSD)</text>
<text transform="translate(66.2 997.6) rotate(-90)" font-size="22.7" font-weight="bold" text-anchor="middle"><tspan font-style="italic">theta</tspan> PL-mPFC (% of total PSD)</text>
<text transform="translate(66.2 1356.9) rotate(-90)" font-size="22.7" font-weight="bold" text-anchor="middle"><tspan font-style="italic">theta</tspan> dCA1 (% of total PSD)</text>
<text transform="translate(19.1 425.2) rotate(-90)" font-size="24.7" text-anchor="middle">CaMKII&#945;&#8211;eNpHR3.0</text>
<text transform="translate(19.4 1188.9) rotate(-90)" font-size="24.7" text-anchor="middle">CaMKII&#945;&#8211;hChR2</text>
<rect x="531.1" y="1543.2" width="14.8" height="14.4" fill="#57a0fb" stroke="#000" stroke-width="2.2" stroke-linejoin="round"/>
<rect x="628.3" y="1543.2" width="14.4" height="14.4" fill="#ff0000" stroke="#000" stroke-width="2.2" stroke-linejoin="round"/>
<text x="549.5" y="1558.2" font-size="21.4">Sham</text>
<text x="646.8" y="1558.2" font-size="21.4">SNI</text>
</svg>
</body></html>
